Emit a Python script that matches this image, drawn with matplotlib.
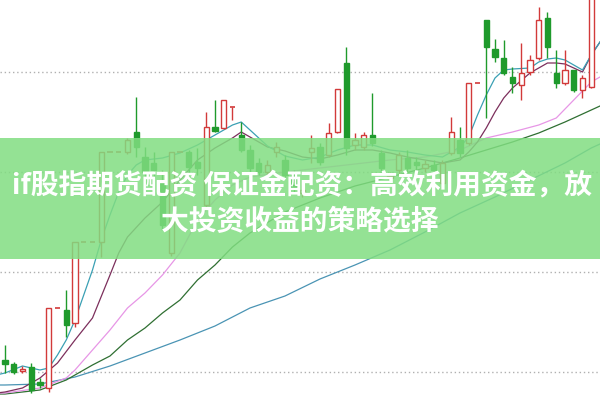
import numpy as np
import matplotlib.pyplot as plt

plt.rcParams['font.family'] = ['Noto Sans CJK SC', 'DejaVu Sans']

# daily candles (price units, grid every 10)
opens = [11.2, 10.8, 10.1, 10.5, 9.0, 8.4, 16.4, 16.2, 14.9, 23.0,
         23.0, 23.0, 32.0, 32.0, 32.0, 34.0, 31.5, 30.9, 28.9, 21.9,
         32.0, 32.0, 31.0, 26.7, 34.5, 34.4, 36.5, 33.7, 32.2, 30.9,
         30.0, 32.0, 31.2, 29.7, 27.9, 32.0, 32.5, 31.7, 34.0, 40.9,
         32.7, 32.5, 33.7, 31.9, 29.4, 30.2, 31.4, 31.0, 30.4, 30.7,
         28.9, 31.9, 33.2, 32.9, 38.9, 45.2, 42.3, 41.4, 39.5, 38.7,
         40.0, 41.4, 45.4, 39.9, 38.9, 40.2, 38.2, 38.5]
highs = [12.7, 11.0, 10.6, 10.9, 9.4, 16.4, 16.4, 18.2, 23.0, 23.0,
         23.0, 32.0, 32.0, 32.0, 33.4, 37.5, 32.5, 32.0, 30.2, 32.0,
         32.0, 32.2, 32.4, 36.0, 37.2, 37.2, 36.5, 35.0, 32.7, 31.4,
         31.2, 33.0, 31.7, 30.2, 28.7, 33.7, 32.9, 34.9, 38.3, 42.5,
         33.9, 34.0, 37.9, 32.2, 30.0, 32.0, 32.2, 31.5, 31.2, 31.2,
         31.2, 35.5, 34.5, 38.9, 38.9, 45.2, 43.3, 43.2, 40.5, 42.9,
         41.7, 46.5, 46.0, 42.2, 42.2, 40.2, 39.7, 49.2]
lows = [9.9, 9.8, 9.9, 7.9, 8.4, 8.0, 16.4, 13.5, 14.5, 23.0,
        23.0, 21.5, 32.0, 32.0, 31.8, 31.5, 28.9, 29.4, 24.2, 21.6,
        32.0, 29.7, 29.7, 26.5, 34.0, 34.3, 35.2, 32.0, 30.0, 29.7,
        29.6, 31.5, 29.4, 28.0, 27.5, 30.9, 30.7, 31.5, 33.9, 31.7,
        32.2, 32.2, 32.6, 30.0, 29.0, 29.7, 29.7, 30.2, 30.0, 30.0,
        28.7, 31.7, 31.5, 32.7, 38.9, 35.4, 41.0, 39.7, 37.9, 37.2,
        39.7, 41.2, 41.4, 38.4, 38.7, 38.0, 37.4, 38.4]
closes = [10.8, 10.0, 10.3, 8.2, 8.7, 16.4, 16.4, 14.7, 23.0, 23.0,
          23.0, 32.0, 32.0, 32.0, 33.2, 32.5, 30.0, 30.2, 24.7, 32.0,
          32.0, 30.5, 30.4, 34.5, 34.1, 37.2, 36.5, 32.2, 30.4, 30.0,
          30.7, 32.5, 29.7, 28.4, 28.2, 32.4, 31.0, 33.9, 38.3, 32.4,
          33.2, 33.7, 32.9, 30.4, 29.6, 31.7, 30.4, 30.7, 30.8, 30.2,
          30.9, 34.0, 31.9, 38.9, 38.9, 42.5, 41.5, 39.9, 38.9, 39.9,
          41.2, 45.2, 42.5, 38.9, 40.2, 38.2, 39.4, 48.2]

# moving average lines, sampled at candle indices (-1 = day before the first candle)
ma5_idx = [-1, 0, 2, 4, 5, 6, 7, 8, 9, 10, 11, 12, 13, 14, 15, 16, 18, 20, 22, 24, 26,
           27, 28, 30, 32, 34, 36, 38, 40, 42, 44, 46, 48, 50, 51, 52, 53, 54, 55,
           56, 57, 58, 60, 61, 62, 63, 64, 65, 66, 67, 68]
ma5_val = [9.7, 9.9, 10.6, 10.2, 10.4, 11.7, 13.2, 15.2, 17.7, 20.2, 23.2, 25.7, 28.0,
           29.7, 30.7, 31.2, 31.4, 31.9, 32.7, 33.7, 34.7, 35.0, 34.2, 32.6, 31.6,
           31.2, 31.5, 32.2, 32.7, 32.7, 32.2, 32.0, 31.7, 31.5, 32.0, 32.5, 33.5,
           35.7, 37.7, 39.4, 40.2, 40.3, 40.4, 41.0, 41.3, 41.4, 41.2, 40.7, 40.2,
           41.7, 43.0]
ma10_idx = [-1, 0, 2, 4, 6, 8, 10, 12, 13, 14, 16, 18, 20, 22, 24, 26, 27, 28, 30, 32,
            34, 36, 38, 40, 42, 44, 46, 48, 50, 52, 53, 54, 55, 56, 57, 58, 60, 62,
            63, 64, 65, 66, 67, 68]
ma10_val = [7.9, 8.0, 8.4, 9.4, 10.9, 13.2, 15.4, 19.7, 21.9, 23.5, 25.4, 27.0, 29.2,
            31.2, 32.4, 33.4, 34.0, 33.5, 32.5, 32.1, 31.5, 31.3, 31.7, 32.2, 32.2,
            31.9, 31.5, 31.2, 30.9, 31.2, 32.0, 33.0, 34.4, 36.0, 37.4, 38.4, 39.9,
            40.9, 40.9, 40.8, 40.4, 40.0, 41.7, 43.0]
ma20_idx = [-1, 0, 4, 7, 8, 10, 12, 14, 16, 18, 20, 22, 24, 26, 28, 32, 36, 40, 44, 48,
            52, 55, 58, 61, 63, 65, 67, 68]
ma20_val = [7.9, 7.9, 8.4, 9.4, 10.2, 12.2, 14.2, 16.4, 17.9, 19.7, 21.9, 25.2, 27.2,
            28.7, 29.5, 30.0, 30.4, 30.8, 31.2, 31.5, 32.2, 33.4, 34.0, 34.7, 35.4,
            37.2, 39.0, 39.5]
ma30_idx = [-1, 0, 4, 7, 10, 12, 14, 16, 18, 20, 22, 24, 26, 28, 32, 36, 40, 44, 48,
            52, 55, 58, 61, 64, 67, 68]
ma30_val = [7.8, 7.8, 8.2, 9.2, 10.7, 11.6, 13.2, 14.4, 15.9, 17.2, 19.2, 20.7, 22.5,
            23.9, 26.0, 27.4, 28.6, 29.5, 30.4, 31.4, 32.2, 33.0, 33.9, 35.0, 36.2, 36.6]
ma60_idx = [-1, 0, 4, 8, 12, 16, 20, 24, 28, 32, 36, 40, 44, 48, 52, 56, 60, 64, 67, 68]
ma60_val = [8.7, 8.7, 8.8, 9.5, 10.6, 11.9, 13.2, 14.6, 16.4, 17.6, 19.3, 20.7, 22.2,
            24.0, 25.9, 27.5, 29.2, 30.9, 32.4, 32.8]

grid_levels = [10, 20, 30, 40]
title_1 = 'if股指期货配资 保证金配资：高效利用资金，放'
title_2 = '大投资收益的策略选择'

up_col = '#d23a3a'
down_col = '#1f9a2c'

fig = plt.figure(figsize=(6, 4), dpi=100)
ax = fig.add_axes([0, 0, 1, 1])

for lv in grid_levels:
    ax.axhline(lv, color='#b0b0b0', lw=1, ls=(0, (1, 2)), zorder=0)

ax.plot(ma60_idx, ma60_val, color='#4a94b4', lw=0.9, zorder=1)
ax.plot(ma30_idx, ma30_val, color='#2f6f32', lw=0.9, zorder=1)
ax.plot(ma20_idx, ma20_val, color='#e796e6', lw=0.9, zorder=1)
ax.plot(ma10_idx, ma10_val, color='#7c2f5c', lw=0.9, zorder=1)
ax.plot(ma5_idx, ma5_val, color='#3aa0b4', lw=0.9, zorder=1)

w = 0.6
for i in range(len(opens)):
    o, h, l, c = opens[i], highs[i], lows[i], closes[i]
    up = c >= o
    col = up_col if up else down_col
    ax.vlines(i, l, h, color=col, lw=1, zorder=2)
    if abs(c - o) < 0.05:
        ax.hlines(o, i - w / 2, i + w / 2, color=col, lw=1.2, zorder=3)
    elif up:
        ax.bar(i, c - o, w, bottom=o, facecolor='white', edgecolor=col, lw=1, zorder=3)
    else:
        ax.bar(i, c - o, w, bottom=o, facecolor=col, edgecolor=col, lw=1, zorder=3)

ax.set_xlim(-0.57, 68.0)
ax.set_ylim(7.2, 47.2)
ax.axis('off')

# green banner with the headline
ax.axhspan(21.3, 33.4, color='#81dd81', alpha=0.85, lw=0, zorder=5)
ax.text(0.503, 0.5375, title_1, transform=ax.transAxes, ha='center', va='center',
        color='white', fontsize=20, fontweight='bold', zorder=6)
ax.text(0.5, 0.445, title_2, transform=ax.transAxes, ha='center', va='center',
        color='white', fontsize=20, fontweight='bold', zorder=6)

fig.savefig('out.png', dpi=100)
